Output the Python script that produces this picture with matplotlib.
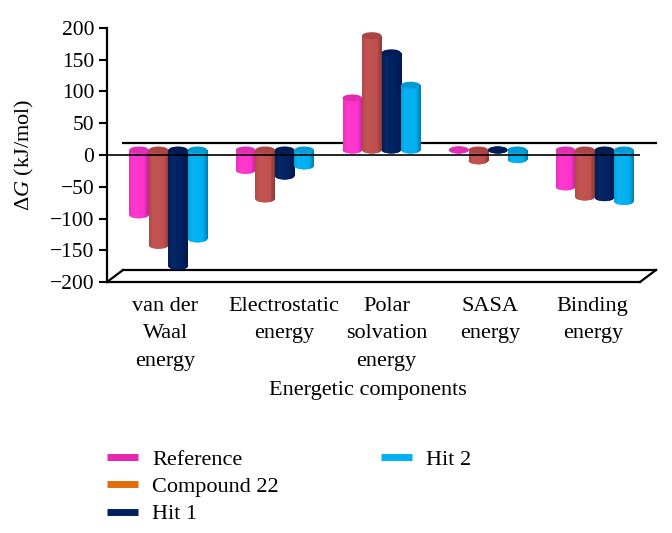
import numpy as np
import matplotlib
matplotlib.use('Agg')
import matplotlib.pyplot as plt
from matplotlib.patches import Ellipse
from matplotlib.transforms import Affine2D
from matplotlib.lines import Line2D
from matplotlib.colors import LinearSegmentedColormap, to_rgb

plt.rcParams['font.family'] = 'Liberation Serif'
plt.rcParams['mathtext.fontset'] = 'custom'
plt.rcParams['mathtext.it'] = 'Liberation Serif:italic'
plt.rcParams['mathtext.rm'] = 'Liberation Serif'

categories = ['van der\nWaal\nenergy', 'Electrostatic\nenergy', 'Polar\nsolvation\nenergy',
              'SASA\nenergy', 'Binding\nenergy']
series_names = ['Reference', 'Compound 22', 'Hit 1', 'Hit 2']
reference = [-102, -32, 82, 0, -58]
compound22 = [-150, -77, 180, -17, -74]
hit1 = [-183, -41, 153, 0, -75]
hit2 = [-140, -25, 102, -15, -81]
series = [reference, compound22, hit1, hit2]
bar_colors = ['#FF33CC', '#C0504D', '#002060', '#00B0F0']
legend_colors = ['#E926B0', '#E36C0A', '#002060', '#00B0F0']
y_ticks = [-200, -150, -100, -50, 0, 50, 100, 150, 200]

W, H = 672, 533
dpi = 100
fig = plt.figure(figsize=(W / dpi, H / dpi), dpi=dpi)
L, R, B, T = 107, 640, 282, 28
ax = fig.add_axes([L / W, 1 - B / H, (R - L) / W, (B - T) / H])
ax.set_xlim(0, 5)
ax.set_ylim(-200, 200)
ax.patch.set_alpha(0)

px_x = 5 / (R - L)
px_y = 400 / (B - T)
bar_w = 19.5 * px_x
ell_h = 7 * px_y
tr = ax.transData + Affine2D().translate(8, 5)


def shade(color, f):
    c = np.array(to_rgb(color))
    return tuple(c * f) if f <= 1 else tuple(c + (1 - c) * (f - 1))


for i, (vals, col) in enumerate(zip(series, bar_colors)):
    cmap = LinearSegmentedColormap.from_list(
        'c', [(0, shade(col, .92)), (.2, shade(col, 1.03)), (.75, shade(col, 1.0)), (1, shade(col, .72))])
    grad = np.linspace(0, 1, 64).reshape(1, -1)
    for j, v in enumerate(vals):
        xc = j + 0.5 + (i - 1.5) * bar_w
        lo, hi = min(v, 0), max(v, 0)
        rect = ax.bar(xc, hi - lo, bar_w, bottom=lo, color=col, transform=tr, zorder=3 + i, clip_on=False)[0]
        end = Ellipse((xc, lo), bar_w, ell_h, transform=tr, fc=col, ec='none', zorder=3 + i, clip_on=False)
        ax.add_patch(end)
        ext = (xc - bar_w / 2, xc + bar_w / 2, lo - ell_h, hi + ell_h)
        for clip in (rect, end):
            im = ax.imshow(grad, extent=ext, aspect='auto', cmap=cmap, transform=tr, zorder=3 + i, origin='lower')
            im.set_clip_path(clip)
        cap = Ellipse((xc, hi), bar_w, ell_h, transform=tr, fc=shade(col, .88), ec='none', zorder=3 + i, clip_on=False)
        ax.add_patch(cap)

ax.set_xlim(0, 5)
ax.set_ylim(-200, 200)

# pseudo-3D frame
for s in ('top', 'right'):
    ax.spines[s].set_visible(False)
for s in ('left', 'bottom'):
    ax.spines[s].set_linewidth(1.6)
    ax.spines[s].set_zorder(20)
back = ax.transData + Affine2D().translate(16, 12)
ax.add_line(Line2D([0, 5], [0, 0], transform=back, color='black', lw=1.6, zorder=1, clip_on=False))
ax.add_line(Line2D([0, 5], [-200, -200], transform=back, color='black', lw=1.6, zorder=1, clip_on=False))
for xv in (0, 5):
    x0, y0 = ax.transData.transform((xv, -200))
    ax.add_line(Line2D([x0, x0 + 16], [y0, y0 + 12], transform=None, color='black', lw=1.6, zorder=2, clip_on=False))
ax.axhline(0, color='black', lw=1.2, zorder=15)

ax.set_yticks(y_ticks)
ax.tick_params(axis='y', labelsize=15.5, length=6, width=1.5, pad=3)
ax.set_xticks(np.arange(5) + 0.5)
ax.set_xticklabels(categories, fontsize=16, linespacing=1.58)
ax.tick_params(axis='x', length=0, pad=11)
label_nudge = [5, 17, 13, 10, 6]
for lab, dx in zip(ax.get_xticklabels(), label_nudge):
    lab.set_transform(lab.get_transform() + Affine2D().translate(dx, 0))

fig.text(24 / W, 1 - 155 / H, r'Δ$\mathit{G}$ (kJ/mol)', rotation=90, ha='center', va='center', fontsize=16)
fig.text(368 / W, 1 - 391 / H, 'Energetic components', ha='center', va='center', fontsize=16)

handles = [Line2D([], [], color=c, lw=5, solid_capstyle='butt', label=n)
           for c, n in zip(legend_colors, series_names)]
common = dict(frameon=False, fontsize=16, handlelength=1.4, handletextpad=0.64,
              labelspacing=0.31, borderaxespad=0, borderpad=0, loc='upper left')
leg1 = fig.legend(handles=handles[:3], bbox_to_anchor=(107 / W, 1 - 449 / H), **common)
leg2 = fig.legend(handles=handles[3:], bbox_to_anchor=(381 / W, 1 - 449 / H), **common)

fig.savefig('out.png', dpi=dpi)
